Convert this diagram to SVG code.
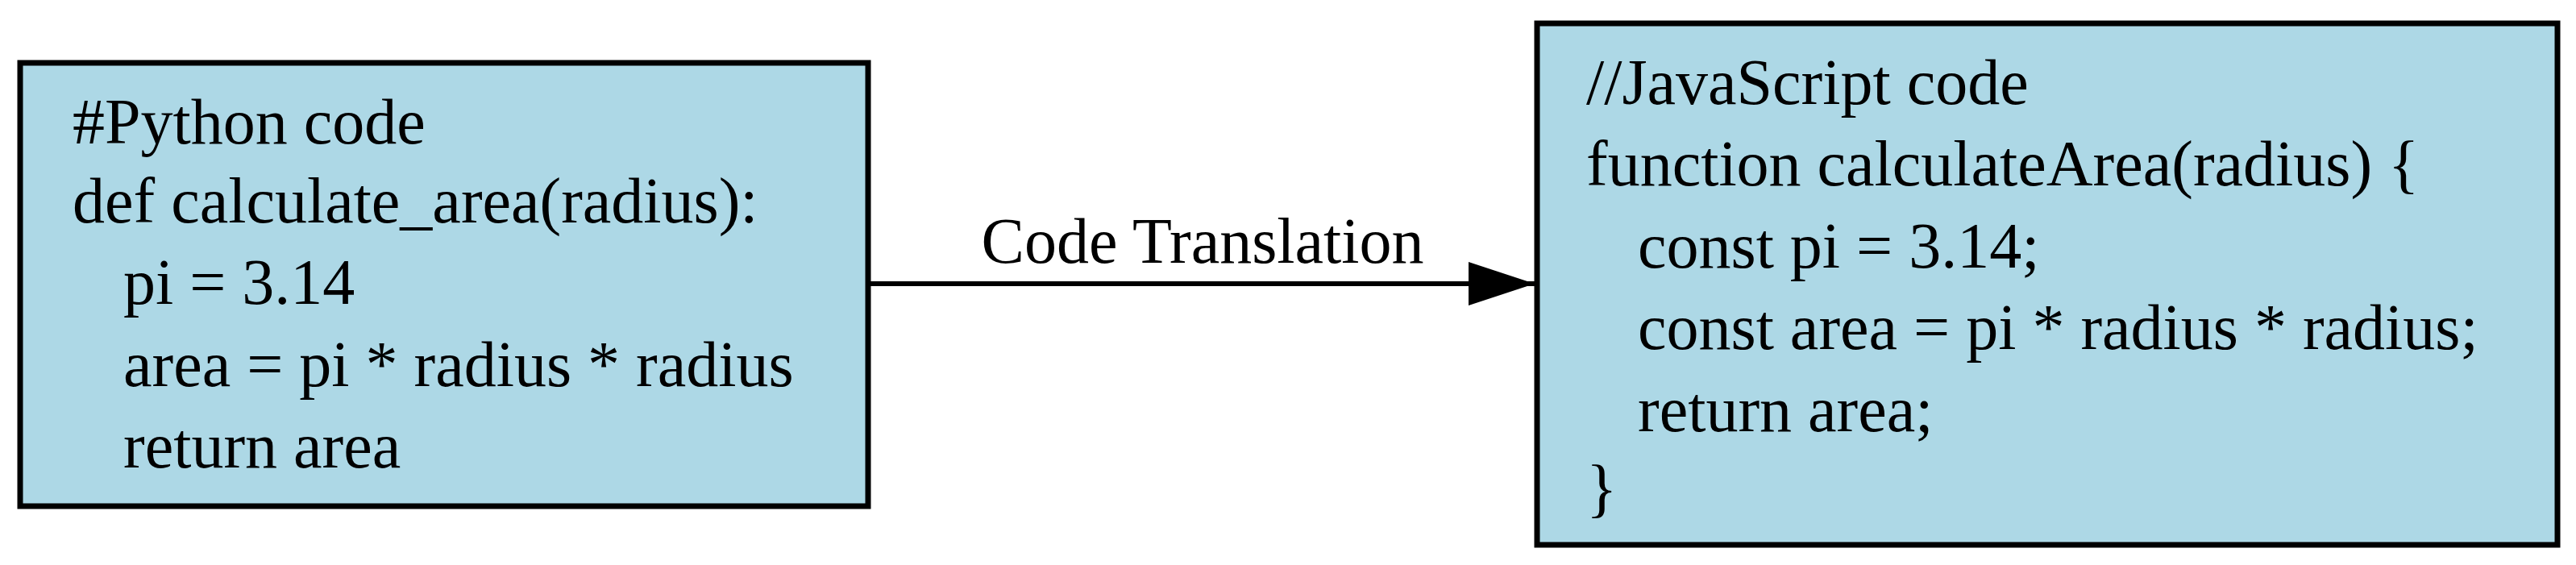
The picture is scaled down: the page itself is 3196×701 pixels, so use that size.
<svg xmlns="http://www.w3.org/2000/svg" width="3196" height="701" viewBox="0 0 3196 701">
<style>
.box{fill:#add8e6;stroke:#000;stroke-width:7}
text{font-family:"Liberation Serif",serif;font-size:80px;fill:#000}
.edge{stroke:#000;stroke-width:6;fill:none}
</style>
<defs><marker id="ah" markerUnits="userSpaceOnUse" markerWidth="90" markerHeight="70" refX="82" refY="35" orient="auto"><path d="M0,8 L82,35 L0,62 Z" fill="#000"/></marker></defs>
<rect width="3196" height="701" fill="#fff"/>
<g id="python">
<rect class="box" x="25" y="78" width="1052" height="550"/>
<text x="90" y="178">#Python code</text>
<text x="90" y="276">def calculate_area(radius):</text>
<text x="153" y="377">pi = 3.14</text>
<text x="153" y="479">area = pi * radius * radius</text>
<text x="153" y="580">return area</text>
</g>
<g id="javascript">
<rect class="box" x="1907" y="29" width="1266" height="647"/>
<text x="1968" y="129">//JavaScript code</text>
<text x="1968" y="230">function calculateArea(radius) {</text>
<text x="2032" y="332">const pi = 3.14;</text>
<text x="2032" y="433">const area = pi * radius * radius;</text>
<text x="2032" y="535">return area;</text>
<text x="1968" y="632">}</text>
</g>
<g id="connectors">
<line class="edge" x1="1077" y1="352" x2="1904" y2="352" marker-end="url(#ah)"/>
<text x="1492" y="326" text-anchor="middle">Code Translation</text>
</g>
</svg>
